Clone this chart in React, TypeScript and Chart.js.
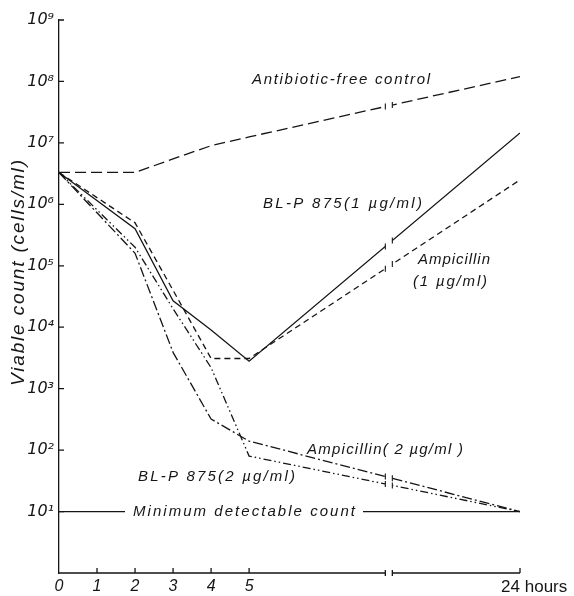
import React, { useEffect, useRef } from 'react';
import { Chart, registerables } from 'chart.js';

Chart.register(...registerables);

// ---- data (hours after inoculation, viable count cells/ml) ----
const hours = [0, 2, 3, 4, 5, 24];
const controlCounts = [3.3e6, 3.3e6, 5.5e6, 9e6, 1.25e7, 1.2e8];
const blp1Counts = [3.3e6, 4.0e5, 2.7e4, 9.0e3, 2.8e3, 1.45e7];
const amp1Counts = [3.3e6, 5.0e5, 4.0e4, 3.1e3, 3.1e3, 2.5e6];
const amp2Counts = [3.3e6, 1.6e5, 3.9e3, 3.2e2, 1.4e2, 1.0e1];
const blp2Counts = [3.3e6, 2.0e5, 2.0e4, 2.2e3, 8.0e1, 1.0e1];
const minHours = [0, 24];
const minCounts = [10, 10];

const xTickHours = [0, 1, 2, 3, 4, 5, 24];
const xTickLabels = ['0', '1', '2', '3', '4', '5', '\u00a0\u00a0\u00a0\u00a0\u00a0\u00a024 hours'];
const yTickValues = [1e1, 1e2, 1e3, 1e4, 1e5, 1e6, 1e7, 1e8, 1e9];
const yTickLabels = ['10¹', '10²', '10³', '10⁴', '10⁵', '10⁶', '10⁷', '10⁸', '10⁹'];

// ---- broken time axis ----
const BREAK_HOUR = 14.8;
const COMPRESS = 0.375;
const axisPos = (h: number) => (h <= 5 ? h : 5 + (h - 5) * COMPRESS);

const INK = '#151515';
const W = 574;
const H = 596;
const GAP = 3.5;

type Anno = { text: string; x: number; y: number; w: number; font: string; clear?: boolean };
const ANNO_FONT = 'italic 15px "Liberation Sans"';
const annotations: Anno[] = [
  { text: 'Antibiotic-free control', x: 252, y: 80, w: 178, font: ANNO_FONT },
  { text: 'BL-P 875(1 µg/ml)', x: 263, y: 204, w: 159, font: ANNO_FONT },
  { text: 'Ampicillin', x: 418, y: 260, w: 72, font: ANNO_FONT },
  { text: '(1 µg/ml)', x: 413, y: 282, w: 74, font: ANNO_FONT },
  { text: 'Ampicillin( 2 µg/ml )', x: 307, y: 450, w: 156, font: ANNO_FONT },
  { text: 'BL-P 875(2 µg/ml)', x: 138, y: 477, w: 157, font: ANNO_FONT },
  { text: 'Minimum detectable count', x: 133, y: 512, w: 222, font: ANNO_FONT, clear: true },
];

function fitText(ctx: CanvasRenderingContext2D, text: string, x: number, y: number, w: number, font: string) {
  const c: any = ctx;
  ctx.font = font;
  c.letterSpacing = '0px';
  const natural = ctx.measureText(text).width;
  const ls = (w - natural) / Math.max(1, text.length - 1);
  c.letterSpacing = ls.toFixed(2) + 'px';
  ctx.fillText(text, x, y);
  c.letterSpacing = '0px';
}

const toPoints = (xs: number[], ys: number[]) => xs.map((h, i) => ({ x: axisPos(h), y: ys[i] }));

const breakPlugin = {
  id: 'brokenAxis',
  beforeDatasetDraw(chart: any, args: any) {
    const ds = chart.data.datasets[args.index];
    if (!ds.broken) return;
    const gx = chart.scales.x.getPixelForValue(axisPos(BREAK_HOUR));
    const ctx = chart.ctx;
    ctx.save();
    ctx.beginPath();
    ctx.rect(0, 0, W, H);
    ctx.rect(gx - GAP, 0, GAP * 2, H);
    ctx.clip('evenodd');
  },
  afterDatasetDraw(chart: any, args: any) {
    const ds = chart.data.datasets[args.index];
    if (!ds.broken) return;
    chart.ctx.restore();
  },
  afterDatasetsDraw(chart: any) {
    const ctx: CanvasRenderingContext2D = chart.ctx;
    const xs = chart.scales.x;
    const ys = chart.scales.y;
    const { left, bottom } = chart.chartArea;
    const gx = xs.getPixelForValue(axisPos(BREAK_HOUR));
    const g1 = gx - GAP;
    const g2 = gx + GAP;
    const xEnd = xs.getPixelForValue(axisPos(24));
    ctx.save();
    ctx.strokeStyle = INK;
    ctx.lineWidth = 1.3;
    ctx.setLineDash([]);
    // x axis line with break
    ctx.beginPath();
    ctx.moveTo(left, bottom);
    ctx.lineTo(g1, bottom);
    ctx.moveTo(g2, bottom);
    ctx.lineTo(xEnd, bottom);
    ctx.moveTo(g1, bottom - 3);
    ctx.lineTo(g1, bottom + 3);
    ctx.moveTo(g2, bottom - 3);
    ctx.lineTo(g2, bottom + 3);
    ctx.stroke();
    // inward tick marks
    ctx.beginPath();
    xTickHours.forEach((h) => {
      if (h === 0) return;
      const px = xs.getPixelForValue(axisPos(h));
      ctx.moveTo(px, bottom);
      ctx.lineTo(px, bottom - 5);
    });
    yTickValues.forEach((v) => {
      const py = ys.getPixelForValue(v);
      ctx.moveTo(left, py);
      ctx.lineTo(left + 5, py);
    });
    ctx.stroke();
    // break marks on the curves
    ctx.lineWidth = 1.1;
    chart.data.datasets.forEach((ds: any, i: number) => {
      if (!ds.broken) return;
      const pts = chart.getDatasetMeta(i).data;
      const yAt = (x: number) => {
        for (let j = 0; j < pts.length - 1; j++) {
          const a = pts[j];
          const b = pts[j + 1];
          if (x >= a.x && x <= b.x) return a.y + ((x - a.x) / (b.x - a.x)) * (b.y - a.y);
        }
        return pts[pts.length - 1].y;
      };
      ctx.beginPath();
      [g1, g2].forEach((x) => {
        const y = yAt(x);
        ctx.moveTo(x, y - 3);
        ctx.lineTo(x, y + 3);
      });
      ctx.stroke();
    });
    // annotations
    ctx.fillStyle = INK;
    ctx.textBaseline = 'middle';
    ctx.textAlign = 'left';
    annotations.forEach((a) => {
      if (a.clear) {
        ctx.fillStyle = '#ffffff';
        ctx.fillRect(a.x - 8, a.y - 7, a.w + 16, 14);
        ctx.fillStyle = INK;
      }
      fitText(ctx, a.text, a.x, a.y, a.w, a.font);
    });
    // y-axis title
    ctx.save();
    ctx.translate(19, 273);
    ctx.rotate(-Math.PI / 2);
    ctx.textAlign = 'left';
    fitText(ctx, 'Viable count (cells/ml)', -113, 0, 226, 'italic 19px "Liberation Sans"');
    ctx.restore();
    ctx.restore();
  },
};

export default function App() {
  const ref = useRef<HTMLCanvasElement | null>(null);
  useEffect(() => {
    if (!ref.current) return;
    const line = (data: any[], dash: number[], broken = true) => ({
      data,
      borderColor: INK,
      borderWidth: 1.3,
      borderDash: dash,
      pointRadius: 0,
      tension: 0,
      fill: false,
      broken,
    });
    const chart = new Chart(ref.current, {
      type: 'line',
      data: {
        datasets: [
          line(toPoints(hours, controlCounts), [11, 5]),
          line(toPoints(hours, blp1Counts), []),
          line(toPoints(hours, amp1Counts), [6, 4]),
          line(toPoints(hours, amp2Counts), [10, 3, 2, 3]),
          line(toPoints(hours, blp2Counts), [8, 3, 1.5, 3, 1.5, 3]),
          line(toPoints(minHours, minCounts), [], false),
        ] as any,
      },
      options: {
        responsive: false,
        animation: false,
        devicePixelRatio: 1,
        layout: { padding: { top: 20, right: 54, left: 0, bottom: 0 } },
        plugins: { legend: { display: false }, tooltip: { enabled: false } },
        scales: {
          x: {
            type: 'linear',
            min: 0,
            max: axisPos(24),
            afterBuildTicks: (s: any) => {
              s.ticks = xTickHours.map((h) => ({ value: axisPos(h) }));
            },
            afterFit: (s: any) => {
              s.height = 23;
            },
            grid: { display: false, drawTicks: false },
            border: { display: false },
            ticks: {
              autoSkip: false,
              maxRotation: 0,
              padding: 4,
              color: INK,
              callback: (_v: any, i: number) => xTickLabels[i],
              font: (c: any) =>
                c.index === xTickLabels.length - 1
                  ? { family: '"Liberation Sans"', size: 17, style: 'normal' }
                  : { family: '"Liberation Sans"', size: 16, style: 'italic' },
            },
          },
          y: {
            type: 'logarithmic',
            min: 1,
            max: 1e9,
            afterBuildTicks: (s: any) => {
              s.ticks = yTickValues.map((v) => ({ value: v }));
            },
            afterFit: (s: any) => {
              s.width = 59;
            },
            grid: { display: false, drawTicks: false },
            border: { display: true, color: INK, width: 1.3 },
            ticks: {
              autoSkip: false,
              padding: 5,
              color: INK,
              callback: (_v: any, i: number) => yTickLabels[i],
              font: { family: '"DejaVu Sans"', size: 16, style: 'italic' },
            },
          },
        },
      } as any,
      plugins: [breakPlugin],
    });
    return () => chart.destroy();
  }, []);
  return (
    <div style={{ position: 'absolute', left: 0, top: 0, width: W, height: H, background: '#fff' }}>
      <canvas ref={ref} width={W} height={H} style={{ width: W, height: H, display: 'block' }} />
    </div>
  );
}
